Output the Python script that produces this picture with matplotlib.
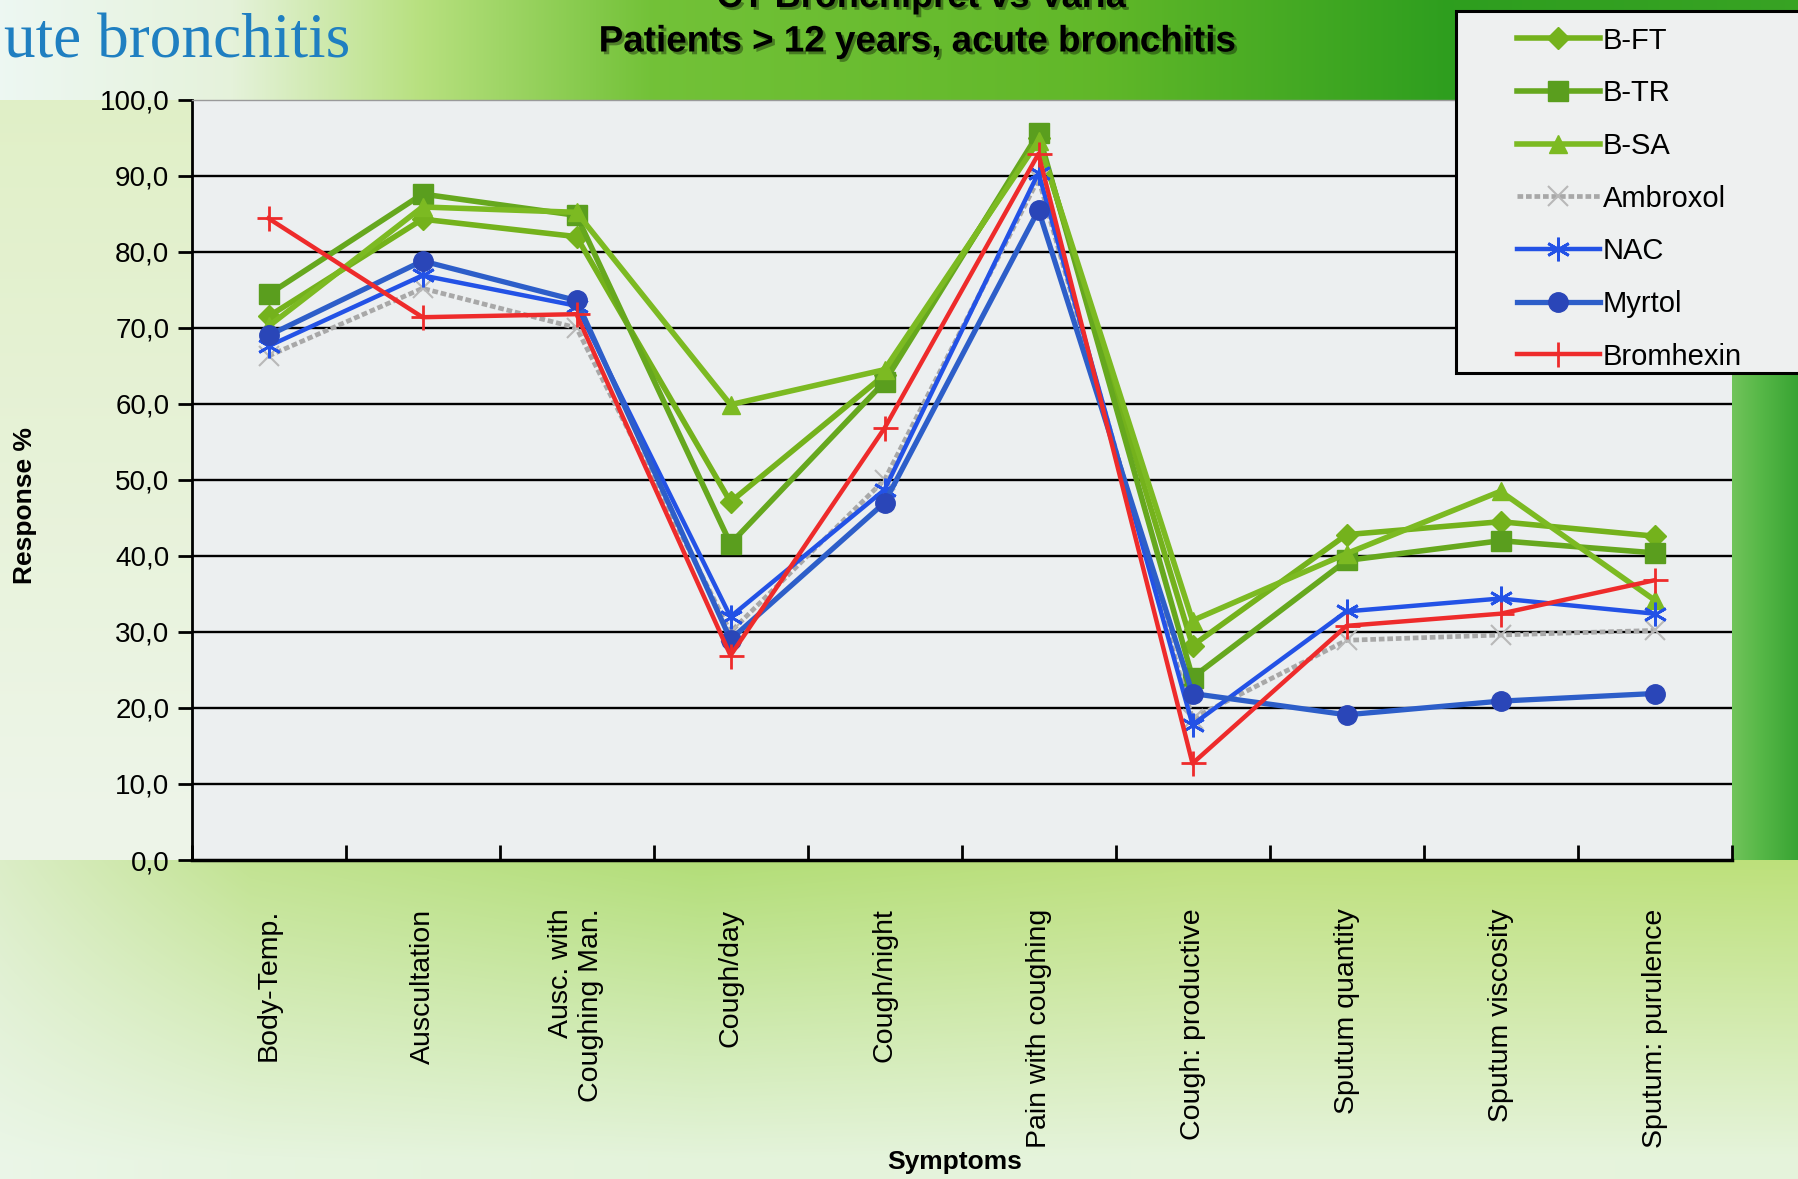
import numpy as np
import matplotlib
matplotlib.use('Agg')
import matplotlib.pyplot as plt
from matplotlib import patheffects
from matplotlib.patches import Rectangle

plt.rcParams['font.family'] = ['Liberation Sans', 'DejaVu Sans']

# figure size in pixels (dpi 100)
W, H = 1798, 1179

# ~~~~~~~~~~~~~~~~~~~~~~~~~~~~ data ~~~~~~~~~~~~~~~~~~~~~~~~~~~~
categories = ['Body-Temp.', 'Auscultation', 'Ausc. with\nCoughing Man.', 'Cough/day',
              'Cough/night', 'Pain with coughing', 'Cough: productive',
              'Sputum quantity', 'Sputum viscosity', 'Sputum: purulence']

b_ft = [71.5, 84.3, 82.0, 47.1, 63.8, 95.0, 28.2, 42.8, 44.5, 42.6]
b_tr = [74.4, 87.6, 84.8, 41.6, 62.9, 95.6, 24.0, 39.4, 42.0, 40.4]
b_sa = [70.2, 85.9, 85.2, 59.9, 64.5, 94.6, 31.5, 40.3, 48.5, 34.2]
ambroxol = [66.3, 75.2, 70.0, 30.0, 50.0, 89.6, 18.6, 28.9, 29.6, 30.2]
nac = [67.6, 76.9, 72.9, 32.0, 48.7, 90.4, 17.8, 32.7, 34.4, 32.4]
myrtol = [69.0, 78.8, 73.6, 29.0, 47.0, 85.5, 21.9, 19.1, 20.9, 21.9]
bromhexin = [84.4, 71.4, 71.8, 26.9, 56.8, 92.9, 12.7, 30.8, 32.4, 36.8]

y_ticks = np.arange(0, 101, 10)


def lerp_x(stops, colors):
    """color for every pixel column, interpolated between the given stops"""
    xs = np.arange(W)
    colors = np.array(colors)
    return np.stack([np.interp(xs, stops, colors[:, c]) for c in range(3)], axis=1)


def make_background():
    """green slide background of the scanned page"""
    img = np.empty((H, W, 3))
    ys = np.arange(H)
    # left / default pale area, a bit greener near the top
    left_top = np.array([0.88, 0.94, 0.78])
    left_bot = np.array([0.93, 0.96, 0.91])
    t = np.clip((ys - 100) / 700, 0, 1)[:, None]
    img[:] = (left_top * (1 - t) + left_bot * t)[:, None, :]
    # top band
    top = lerp_x([0, 230, 420, 650, 1100, 1450, 1798],
                 [[0.93, 0.97, 0.95], [0.90, 0.95, 0.86], [0.72, 0.88, 0.50],
                  [0.45, 0.76, 0.22], [0.38, 0.72, 0.16], [0.18, 0.62, 0.12],
                  [0.22, 0.64, 0.14]])
    img[:100] = top[None, :, :]
    # right strip beside the plot
    right = lerp_x([1730, 1760, 1798],
                   [[0.45, 0.77, 0.36], [0.34, 0.72, 0.28], [0.22, 0.64, 0.20]])
    img[100:862, 1730:] = right[None, 1730:, :]
    # bottom area, greener right under the axis and fading downwards
    row = lerp_x([0, 250, 700, 1200, 1798],
                 [[0.86, 0.93, 0.78], [0.76, 0.89, 0.57], [0.70, 0.87, 0.47],
                  [0.75, 0.88, 0.50], [0.74, 0.88, 0.48]])
    pale = np.array([0.93, 0.97, 0.93])
    t = np.clip((ys[860:] - 860) / 300, 0, 1)[:, None, None] * 0.85
    img[860:] = row[None, :, :] * (1 - t) + pale[None, None, :] * t
    return img


fig = plt.figure(figsize=(W / 100, H / 100), dpi=100)

# background picture covering the whole figure
bg = fig.add_axes([0, 0, 1, 1], zorder=-10)
bg.imshow(make_background(), aspect='auto', interpolation='bilinear')
bg.axis('off')

ax = fig.add_axes([191.5 / W, 319 / H, 1540 / W, 760.2 / H])
ax.set_facecolor('#eceff0')

x = np.arange(len(categories))

series = [
    ('B-FT', b_ft, '#74b21c', 'D', 11, dict(lw=4.0)),
    ('B-TR', b_tr, '#66a81e', 's', 14, dict(lw=4.0, mfc='#5a9e1e', mec='#5a9e1e')),
    ('B-SA', b_sa, '#7cba22', '^', 13, dict(lw=4.0)),
    ('Ambroxol', ambroxol, '#a8a8a8', 'x', 14, dict(lw=3.4, ls=(0, (1.2, 0.6)), mew=1.5, mec='#b8b8b8')),
    ('NAC', nac, '#2352e6', (6, 2, 0), 17, dict(lw=3.2, mew=2.0)),
    ('Myrtol', myrtol, '#2d5ec9', 'o', 14, dict(lw=3.8, mfc='#2a46b8', mec='#2a46b8')),
    ('Bromhexin', bromhexin, '#ee2b2b', '+', 18, dict(lw=3.2, mew=2.0)),
]

for label, values, color, marker, ms, kw in series:
    ax.plot(x, values, color=color, marker=marker, markersize=ms, label=label,
            clip_on=False, zorder=3, **kw)

# axes limits and y ticks
ax.set_xlim(-0.5, len(categories) - 0.5)
ax.set_ylim(0, 100)
ax.set_yticks(y_ticks)
ax.set_yticklabels([f'{v:.1f}'.replace('.', ',') for v in y_ticks], fontsize=20)
ax.tick_params(axis='y', direction='out', length=10, width=2, pad=6)

# horizontal black grid, the top one is replaced by the thin dotted border
ax.yaxis.grid(True, color='black', lw=1.7)
ax.set_axisbelow(True)
ax.get_ygridlines()[-1].set_visible(False)
ax.get_ygridlines()[0].set_visible(False)

# x ticks sit between the categories, labels on the centres
ax.set_xticks(np.arange(-0.5, len(categories), 1))
ax.set_xticklabels([])
ax.tick_params(axis='x', which='major', direction='in', length=11, width=2)
ax.set_xticks(x, minor=True)
ax.set_xticklabels(categories, minor=True, rotation=90, fontsize=20.5, va='top', ha='center')
ax.tick_params(axis='x', which='minor', length=0, pad=35)
for lab in ax.get_xticklabels(minor=True):
    lab.set_multialignment('right')

ax.spines['left'].set_linewidth(2)
ax.spines['bottom'].set_linewidth(2.5)
ax.spines['right'].set_visible(False)
ax.spines['top'].set_color('#9a9a9a')
ax.spines['top'].set_linewidth(1)
ax.spines['top'].set_linestyle((0, (1, 1)))

# axis titles
fig.text(25 / W, 1 - 505 / H, 'Response %', rotation=90, ha='center', va='center',
         fontsize=19, weight='bold')
fig.text(955 / W, 1 - 1162 / H, 'Symptoms', ha='center', va='center',
         fontsize=19, weight='bold')

# slide texts (the first line is cut by the top edge, as on the scan)
shadow = [patheffects.SimplePatchShadow(offset=(2, -2), shadow_rgbFace='black', alpha=0.35),
          patheffects.Normal()]
fig.text(921 / W, 1 - 7 / H, 'CT Bronchipret vs Varia', ha='center', va='baseline',
         fontsize=26, weight='bold', path_effects=shadow)
fig.text(917 / W, 1 - 42 / H, 'Patients > 12 years, acute bronchitis', ha='center',
         va='center', fontsize=26.5, weight='bold', path_effects=shadow)
fig.text(4 / W, 1 - 42 / H, 'ute bronchitis', ha='left', va='center', fontsize=45.5,
         family='Liberation Serif', color='#1f7fc1')

# legend box in the top right corner, running past the right edge
fig.patches.append(Rectangle((1456 / W, 1 - 373 / H), 360 / W, 362 / H,
                             transform=fig.transFigure, facecolor='#eef0f0',
                             edgecolor='black', linewidth=2.2, zorder=5))
leg = fig.legend(loc='upper left', bbox_to_anchor=(1505 / W, 1 - 15 / H), fontsize=21,
                 handlelength=2.85, handletextpad=0.1, labelspacing=0.845,
                 borderpad=0.4, borderaxespad=0, frameon=False)
leg.set_zorder(6)

fig.savefig('out.png', dpi=100)
